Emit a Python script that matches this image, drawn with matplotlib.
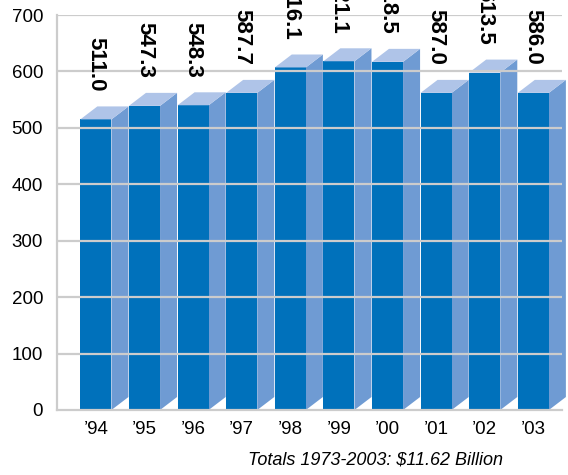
import matplotlib
matplotlib.use('Agg')

import matplotlib.pyplot as plt
from matplotlib.patches import Polygon

# data
years = ["\u201994", "\u201995", "\u201996", "\u201997", "\u201998",
         "\u201999", "\u201900", "\u201901", "\u201902", "\u201903"]
value_labels = ["511.0", "547.3", "548.3", "587.7", "616.1",
                "621.1", "618.5", "587.0", "613.5", "586.0"]
bar_heights = [515, 539, 540, 562, 607, 618, 617, 562, 598, 562]
y_ticks = [0, 100, 200, 300, 400, 500, 600, 700]
caption = "Totals 1973-2003: $11.62 Billion"

front_color = '#0071bb'
side_color = '#6f9bd3'
top_color = '#afc4e8'
grid_color = '#cccccc'

plt.rcParams['font.family'] = ['Liberation Sans', 'DejaVu Sans']

fig = plt.figure(figsize=(5.68, 4.75), dpi=100)
ax = fig.add_axes([57 / 568, 65 / 475, 505 / 568, 395 / 475])

width = 0.64
dx = 0.35
dy = 23

# -----------------------------
# 3D bars
# -----------------------------

for i, h in enumerate(bar_heights):

    x0 = i - width / 2
    x1 = i + width / 2

    front = Polygon([(x0, 0), (x1, 0), (x1, h), (x0, h)],
                    closed=True, facecolor=front_color, edgecolor='none',
                    zorder=2, clip_on=False)
    side = Polygon([(x1, 0), (x1 + dx, dy), (x1 + dx, h + dy), (x1, h)],
                   closed=True, facecolor=side_color, edgecolor='none',
                   zorder=1.5, clip_on=False)
    top = Polygon([(x0, h), (x1, h), (x1 + dx, h + dy), (x0 + dx, h + dy)],
                  closed=True, facecolor=top_color, edgecolor='none',
                  zorder=2, clip_on=False)

    ax.add_patch(side)
    ax.add_patch(front)
    ax.add_patch(top)

    ax.annotate(value_labels[i], (i, h), xytext=(0, 20),
                textcoords='offset points', rotation=-90,
                ha='center', va='bottom', fontsize=16, fontweight='bold',
                annotation_clip=False, zorder=4)

# gridlines over the bars
for t in y_ticks[1:]:
    ax.axhline(t, color=grid_color, linewidth=1.6, zorder=3)

ax.set_xlim(-0.8, 9.59)
ax.set_ylim(0, 700)

ax.set_yticks(y_ticks)
ax.set_xticks(range(len(years)))
ax.set_xticklabels(years)

ax.tick_params(axis='both', length=0, labelsize=13.5, colors='black')
ax.tick_params(axis='y', pad=10)
ax.tick_params(axis='x', pad=8)

for s in ['top', 'right']:
    ax.spines[s].set_visible(False)
for s in ['left', 'bottom']:
    ax.spines[s].set_color(grid_color)
    ax.spines[s].set_linewidth(1.6)
    ax.spines[s].set_zorder(3)

fig.text(503 / 568, 1 - 460 / 475, caption, ha='right', va='center',
         fontsize=13, fontstyle='italic')

fig.savefig('out.png', dpi=100)
plt.close(fig)
